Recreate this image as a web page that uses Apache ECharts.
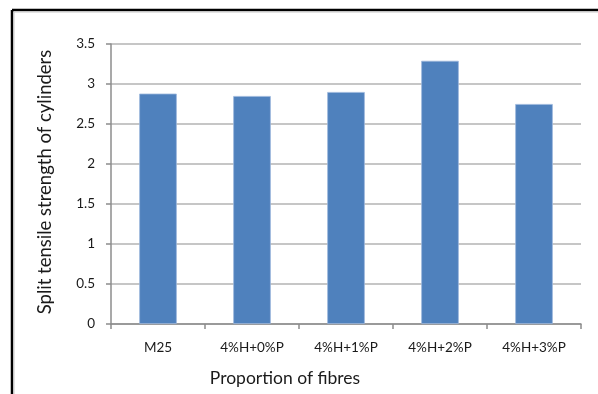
<!DOCTYPE html>
<html>
<head>
<meta charset="utf-8">
<script src="https://cdn.jsdelivr.net/npm/echarts@6/dist/echarts.min.js"></script>
<style>
  html, body { margin: 0; padding: 0; background: #fff; }
  #chart { width: 598px; height: 394px; }
</style>
</head>
<body>
<div id="chart"></div>
<script>
// Split tensile strength of cylinders for each fibre mix
const categories = ['M25', '4%H+0%P', '4%H+1%P', '4%H+2%P', '4%H+3%P'];
const strengths = [2.88, 2.85, 2.90, 3.29, 2.75];
const yTicks = { min: 0, max: 3.5, interval: 0.5 };

const fontFamily = 'Lato, "Open Sans", sans-serif';
const chart = echarts.init(document.getElementById('chart'), null, { renderer: 'canvas' });

chart.setOption({
  animation: false,
  backgroundColor: '#fff',
  grid: { left: 111, right: 17, top: 44, bottom: 70, containLabel: false },
  xAxis: {
    type: 'category',
    data: categories,
    axisLine: { show: true, lineStyle: { color: '#8c8c8c', width: 1.5 } },
    axisTick: { show: true, length: 5, alignWithLabel: false, lineStyle: { color: '#8c8c8c', width: 1.5 } },
    axisLabel: { color: '#1a1a1a', fontSize: 13.5, fontFamily, margin: 17 },
    splitLine: { show: false }
  },
  yAxis: {
    type: 'value',
    min: yTicks.min,
    max: yTicks.max,
    interval: yTicks.interval,
    axisLine: { show: true, lineStyle: { color: '#8c8c8c', width: 1.5 } },
    axisTick: { show: true, length: 5, lineStyle: { color: '#8c8c8c', width: 1.5 } },
    axisLabel: { color: '#1a1a1a', fontSize: 13.5, fontFamily, margin: 16 },
    splitLine: { show: true, lineStyle: { color: '#b3b3b3', width: 1.5 } }
  },
  series: [{
    type: 'bar',
    data: strengths,
    barWidth: '40%',
    itemStyle: { color: '#4f81bd', borderColor: '#9db7dc', borderWidth: 0.8 }
  }],
  graphic: [
    // frame edges on the top and left
    { type: 'line', shape: { x1: 12, y1: 10, x2: 598, y2: 10 }, style: { stroke: '#000', lineWidth: 2.5 } },
    { type: 'line', shape: { x1: 12, y1: 10, x2: 12, y2: 394 }, style: { stroke: '#000', lineWidth: 2.5 } },
    { type: 'line', shape: { x1: 14, y1: 12, x2: 598, y2: 12 }, style: { stroke: '#c8c8c8', lineWidth: 1 } },
    { type: 'line', shape: { x1: 14, y1: 12, x2: 14, y2: 394 }, style: { stroke: '#c8c8c8', lineWidth: 1 } },
    {
      type: 'text', x: 45, y: 182, rotation: Math.PI / 2,
      style: {
        text: 'Split tensile strength of cylinders', fill: '#1a1a1a',
        font: '18.5px ' + fontFamily, textAlign: 'center', textVerticalAlign: 'middle'
      }
    },
    {
      type: 'text', x: 285, y: 378,
      style: {
        text: 'Proportion of fibres', fill: '#1a1a1a',
        font: '17.5px ' + fontFamily, textAlign: 'center', textVerticalAlign: 'middle'
      }
    }
  ]
});
</script>
</body>
</html>
